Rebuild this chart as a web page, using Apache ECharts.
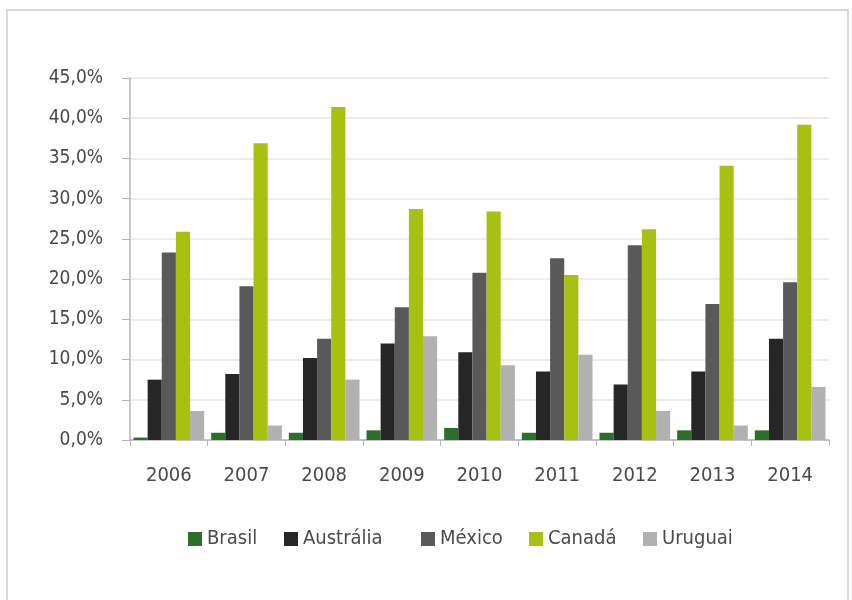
<!DOCTYPE html>
<html>
<head>
<meta charset="utf-8">
<script src="https://cdn.jsdelivr.net/npm/echarts@6/dist/echarts.min.js"></script>
<style>
  html, body { margin: 0; padding: 0; background: #ffffff; }
  #chart { width: 852px; height: 600px; }
</style>
</head>
<body>
<div id="chart"></div>
<script>
// Share (%) by country and year
const years = ['2006', '2007', '2008', '2009', '2010', '2011', '2012', '2013', '2014'];
const countries = ['Brasil', 'Austrália', 'México', 'Canadá', 'Uruguai'];
const brasil    = [0.3, 0.9, 0.9, 1.2, 1.5, 0.9, 0.9, 1.2, 1.2];
const australia = [7.5, 8.2, 10.2, 12.0, 10.9, 8.5, 6.9, 8.5, 12.6];
const mexico    = [23.3, 19.1, 12.6, 16.5, 20.8, 22.6, 24.2, 16.9, 19.6];
const canada    = [25.9, 36.9, 41.4, 28.7, 28.4, 20.5, 26.2, 34.1, 39.2];
const uruguai   = [3.6, 1.8, 7.5, 12.9, 9.3, 10.6, 3.6, 1.8, 6.6];
const yTicks = { min: 0, max: 45, step: 5 };

const font = '"DejaVu Sans Condensed", "DejaVu Sans", sans-serif';
const textColor = '#4a4a4a';
const colors = ['#2d6e2d', '#262626', '#595959', '#a7c012', '#b1b1b1'];

// legend entries are laid out one by one along the bottom row
const legendLeft = [188, 284, 421, 529, 643];

function bar(name, data) {
  return { name, type: 'bar', data, barGap: '0%', barCategoryGap: '9%' };
}

const chart = echarts.init(document.getElementById('chart'), null, { renderer: 'canvas' });
chart.setOption({
  animation: false,
  color: colors,
  graphic: [{
    type: 'rect',
    shape: { x: 7, y: 10, width: 841, height: 620 },
    style: { fill: 'none', stroke: '#d9d9d9', lineWidth: 2 },
    silent: true
  }],
  grid: { left: 130, right: 23, top: 78, bottom: 160 },
  legend: countries.map((name, i) => ({
    top: 529,
    left: legendLeft[i],
    padding: 0,
    itemWidth: 14,
    itemHeight: 14,
    icon: 'rect',
    textStyle: { fontFamily: font, fontSize: 20, color: textColor },
    data: [name]
  })),
  xAxis: {
    type: 'category',
    data: years,
    axisLine: { lineStyle: { color: '#b5b5b5', width: 1.5 } },
    axisTick: { show: true, length: 6, lineStyle: { color: '#b5b5b5' } },
    axisLabel: { fontFamily: font, fontSize: 20, color: textColor, margin: 26 }
  },
  yAxis: {
    type: 'value',
    min: yTicks.min,
    max: yTicks.max,
    interval: yTicks.step,
    axisLine: { show: true, lineStyle: { color: '#b5b5b5', width: 1.5 } },
    axisTick: { show: true, length: 8, lineStyle: { color: '#b5b5b5' } },
    splitLine: { lineStyle: { color: '#e6e6e6', width: 1.5 } },
    axisLabel: {
      fontFamily: font, fontSize: 19, color: textColor, margin: 27,
      formatter: v => v.toFixed(1).replace('.', ',') + '%'
    }
  },
  series: [
    bar(countries[0], brasil),
    bar(countries[1], australia),
    bar(countries[2], mexico),
    bar(countries[3], canada),
    bar(countries[4], uruguai)
  ]
});
</script>
</body>
</html>
